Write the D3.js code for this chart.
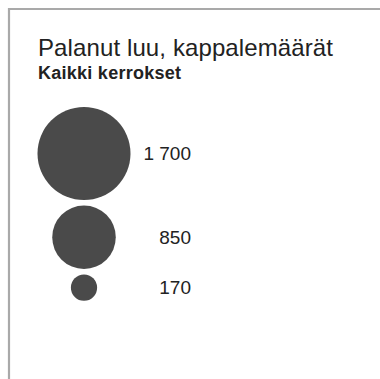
<!DOCTYPE html>
<html>
<head>
<meta charset="utf-8">
<script src="https://cdn.jsdelivr.net/npm/d3@7/dist/d3.min.js"></script>
<style>
  html, body { margin: 0; padding: 0; background: #fff; }
  svg { display: block; }
</style>
</head>
<body>
<svg id="chart" width="380" height="379"></svg>
<script>
// Legend values for burnt bone counts
const values = [1700, 850, 170];
const titleText = "Palanut luu, kappalemäärät";
const subtitleText = "Kaikki kerrokset";

const fi = d3.formatLocale({ decimal: ",", thousands: "\u00a0", grouping: [3], currency: ["", " €"] });
const fmt = fi.format(",d");

const svg = d3.select("#chart");

// Frame open to the right and bottom
svg.append("path")
  .attr("d", "M9,400V9H400")
  .attr("fill", "none")
  .attr("stroke", "#a9a9a9")
  .attr("stroke-width", 2.2);

svg.append("text")
  .attr("x", 38).attr("y", 56)
  .attr("font-family", "Liberation Sans, Arial, sans-serif")
  .attr("font-size", 24)
  .attr("fill", "#222")
  .attr("textLength", 295)
  .attr("lengthAdjust", "spacing")
  .text(titleText);

svg.append("text")
  .attr("x", 38).attr("y", 79)
  .attr("font-family", "Liberation Sans, Arial, sans-serif")
  .attr("font-size", 18)
  .attr("font-weight", "bold")
  .attr("fill", "#222")
  .attr("textLength", 143)
  .attr("lengthAdjust", "spacing")
  .text(subtitleText);

// Circle size scale
const r = d3.scalePow().exponent(0.55).domain([0, d3.max(values)]).range([0, 46.5]);

const cx = 84;
const stackTop = 107;
const gap = 5.5;
let cursor = stackTop;
const rows = values.map(v => {
  const cy = cursor + r(v);
  cursor = cy + r(v) + gap;
  return { v, cy };
});

const g = svg.append("g");
g.selectAll("circle")
  .data(rows)
  .join("circle")
  .attr("cx", cx)
  .attr("cy", d => d.cy)
  .attr("r", d => r(d.v))
  .attr("fill", "#4a4a4a");

g.selectAll("text")
  .data(rows)
  .join("text")
  .attr("x", 191)
  .attr("y", d => d.cy)
  .attr("dy", "0.36em")
  .attr("text-anchor", "end")
  .attr("font-family", "Liberation Sans, Arial, sans-serif")
  .attr("font-size", 19)
  .attr("fill", "#222")
  .text(d => fmt(d.v));
</script>
</body>
</html>
